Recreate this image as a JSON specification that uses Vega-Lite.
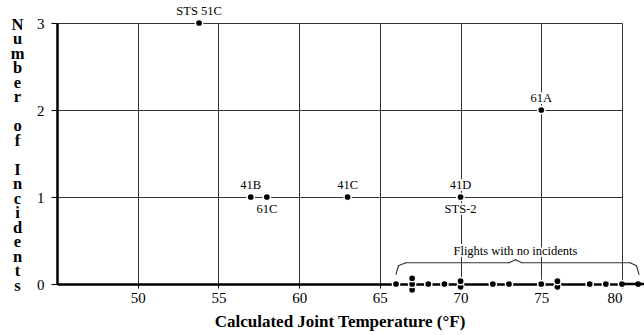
{
  "$schema": "https://vega.github.io/schema/vega-lite/v6.json",
  "width": 565,
  "height": 261,
  "autosize": {"type": "none"},
  "padding": {"left": 57, "top": 23, "right": 22, "bottom": 51},
  "background": "white",
  "config": {
    "view": {"stroke": null},
    "font": "Liberation Serif",
    "axis": {
      "labelFont": "Liberation Serif",
      "titleFont": "Liberation Serif",
      "labelColor": "black",
      "titleColor": "black",
      "labelFontSize": 15,
      "gridColor": "#333",
      "gridWidth": 1,
      "gridOpacity": 1,
      "domainColor": "black",
      "domainWidth": 2.5,
      "tickColor": "black",
      "tickWidth": 1
    }
  },
  "datasets": {
    "flights": [
      {"flight": "STS 51C", "temp": 53.8, "incidents": 3},
      {"flight": "41B", "temp": 57, "incidents": 1},
      {"flight": "61C", "temp": 58, "incidents": 1},
      {"flight": "41C", "temp": 63, "incidents": 1},
      {"flight": "41D", "temp": 70, "incidents": 1},
      {"flight": "STS-2", "temp": 70, "incidents": 1},
      {"flight": "61A", "temp": 75, "incidents": 2},
      {"temp": 66, "incidents": 0},
      {"temp": 67, "incidents": 0},
      {"temp": 67, "incidents": 0},
      {"temp": 67, "incidents": 0},
      {"temp": 68, "incidents": 0},
      {"temp": 69, "incidents": 0},
      {"temp": 70, "incidents": 0},
      {"temp": 70, "incidents": 0},
      {"temp": 72, "incidents": 0},
      {"temp": 73, "incidents": 0},
      {"temp": 75, "incidents": 0},
      {"temp": 76, "incidents": 0},
      {"temp": 76, "incidents": 0},
      {"temp": 78, "incidents": 0},
      {"temp": 79, "incidents": 0},
      {"temp": 80, "incidents": 0},
      {"temp": 81, "incidents": 0}
    ],
    "one": [{}]
  },
  "data": {"name": "flights"},
  "layer": [
    {
      "transform": [
        {"window": [{"op": "row_number", "as": "k"}, {"op": "count", "as": "n"}], "groupby": ["temp", "incidents"], "frame": [null, null]},
        {"calculate": "datum.incidents == 0 ? (datum.k - (datum.n + 1) / 2) * 0.066 : datum.incidents", "as": "yy"}
      ],
      "mark": {"type": "circle", "size": 52, "color": "black", "opacity": 1, "stroke": "white", "strokeWidth": 1.5, "clip": false},
      "encoding": {
        "x": {
          "field": "temp", "type": "quantitative",
          "scale": {"domain": [45, 80], "nice": false, "zero": false},
          "axis": {
            "values": [50, 55, 60, 65, 70, 75, 80],
            "format": "d",
            "grid": true,
            "tickSize": 4,
            "labelPadding": 2,
            "labelFont": "Liberation Serif",
            "labelFontSize": 15,
            "title": "Calculated Joint Temperature (°F)",
            "titleFont": "Liberation Serif",
            "titleFontSize": 17,
            "titleFontWeight": "bold",
            "titleBaseline": "alphabetic",
            "titleY": 42
          }
        },
        "y": {
          "field": "yy", "type": "quantitative",
          "scale": {"domain": [0, 3], "nice": false, "zero": false},
          "axis": {
            "values": [0, 1, 2, 3],
            "format": "d",
            "grid": true,
            "tickSize": 6,
            "labelPadding": 7,
            "labelFont": "Liberation Serif",
            "labelFontSize": 15,
            "title": ["N", "u", "m", "b", "e", "r", "\u200b", "o", "f", "\u200b", "I", "n", "c", "i", "d", "e", "n", "t", "s"],
            "titleFont": "Liberation Serif",
            "titleAngle": 0,
            "titleFontSize": 16.5,
            "titleFontWeight": "bold",
            "titleLineHeight": 14.5,
            "titleAlign": "center",
            "titleBaseline": "top",
            "titleX": -40,
            "titleY": -7
          }
        }
      }
    },
    {
      "data": {"name": "one"},
      "mark": {"type": "rule", "color": "black", "strokeWidth": 2.5, "clip": false},
      "encoding": {
        "x": {"datum": 80, "type": "quantitative"},
        "x2": {"datum": 81.5},
        "y": {"datum": 0, "type": "quantitative"}
      }
    },
    {
      "data": {"name": "one"},
      "mark": {"type": "rule", "color": "#333", "strokeWidth": 1.1, "strokeCap": "round", "clip": false},
      "encoding": {
        "x": {"datum": 66.0, "type": "quantitative"},
        "x2": {"datum": 66.15},
        "y": {"datum": 0.11, "type": "quantitative"},
        "y2": {"datum": 0.21}
      }
    },
    {
      "data": {"name": "one"},
      "mark": {"type": "rule", "color": "#333", "strokeWidth": 1.1, "strokeCap": "round", "clip": false},
      "encoding": {
        "x": {"datum": 66.15, "type": "quantitative"},
        "x2": {"datum": 66.6},
        "y": {"datum": 0.21, "type": "quantitative"},
        "y2": {"datum": 0.245}
      }
    },
    {
      "data": {"name": "one"},
      "mark": {"type": "rule", "color": "#333", "strokeWidth": 1.1, "strokeCap": "round", "clip": false},
      "encoding": {
        "x": {"datum": 66.6, "type": "quantitative"},
        "x2": {"datum": 73.0},
        "y": {"datum": 0.245, "type": "quantitative"}
      }
    },
    {
      "data": {"name": "one"},
      "mark": {"type": "rule", "color": "#333", "strokeWidth": 1.1, "strokeCap": "round", "clip": false},
      "encoding": {
        "x": {"datum": 73.0, "type": "quantitative"},
        "x2": {"datum": 73.4},
        "y": {"datum": 0.245, "type": "quantitative"},
        "y2": {"datum": 0.28}
      }
    },
    {
      "data": {"name": "one"},
      "mark": {"type": "rule", "color": "#333", "strokeWidth": 1.1, "strokeCap": "round", "clip": false},
      "encoding": {
        "x": {"datum": 73.4, "type": "quantitative"},
        "x2": {"datum": 73.8},
        "y": {"datum": 0.28, "type": "quantitative"},
        "y2": {"datum": 0.245}
      }
    },
    {
      "data": {"name": "one"},
      "mark": {"type": "rule", "color": "#333", "strokeWidth": 1.1, "strokeCap": "round", "clip": false},
      "encoding": {
        "x": {"datum": 73.8, "type": "quantitative"},
        "x2": {"datum": 80.5},
        "y": {"datum": 0.245, "type": "quantitative"}
      }
    },
    {
      "data": {"name": "one"},
      "mark": {"type": "rule", "color": "#333", "strokeWidth": 1.1, "strokeCap": "round", "clip": false},
      "encoding": {
        "x": {"datum": 80.5, "type": "quantitative"},
        "x2": {"datum": 80.9},
        "y": {"datum": 0.245, "type": "quantitative"},
        "y2": {"datum": 0.21}
      }
    },
    {
      "data": {"name": "one"},
      "mark": {"type": "rule", "color": "#333", "strokeWidth": 1.1, "strokeCap": "round", "clip": false},
      "encoding": {
        "x": {"datum": 80.9, "type": "quantitative"},
        "x2": {"datum": 81.05},
        "y": {"datum": 0.21, "type": "quantitative"},
        "y2": {"datum": 0.11}
      }
    },
    {
      "data": {"name": "one"},
      "mark": {"type": "text", "fontSize": 12.5, "font": "Liberation Serif", "baseline": "bottom", "align": "center", "stroke": "white", "strokeWidth": 4, "strokeJoin": "round", "fill": "white"},
      "encoding": {
        "x": {"datum": 73.4, "type": "quantitative"},
        "y": {"datum": 0.3, "type": "quantitative"},
        "text": {"value": "Flights with no incidents"}
      }
    },
    {
      "data": {"name": "one"},
      "mark": {"type": "text", "fontSize": 12.5, "font": "Liberation Serif", "baseline": "bottom", "align": "center", "color": "black"},
      "encoding": {
        "x": {"datum": 73.4, "type": "quantitative"},
        "y": {"datum": 0.3, "type": "quantitative"},
        "text": {"value": "Flights with no incidents"}
      }
    },
    {
      "transform": [{"filter": "isValid(datum.flight) && datum.flight != '61C' && datum.flight != 'STS-2'"}],
      "mark": {"type": "text", "fontSize": 12.5, "font": "Liberation Serif", "baseline": "bottom", "align": "center", "dy": -5, "stroke": "white", "strokeWidth": 4, "strokeJoin": "round", "fill": "white"},
      "encoding": {
        "x": {"field": "temp", "type": "quantitative"},
        "y": {"field": "incidents", "type": "quantitative"},
        "text": {"field": "flight"}
      }
    },
    {
      "transform": [{"filter": "isValid(datum.flight) && datum.flight != '61C' && datum.flight != 'STS-2'"}],
      "mark": {"type": "text", "fontSize": 12.5, "font": "Liberation Serif", "baseline": "bottom", "align": "center", "dy": -5, "color": "black"},
      "encoding": {
        "x": {"field": "temp", "type": "quantitative"},
        "y": {"field": "incidents", "type": "quantitative"},
        "text": {"field": "flight"}
      }
    },
    {
      "transform": [{"filter": "datum.flight == '61C' || datum.flight == 'STS-2'"}],
      "mark": {"type": "text", "fontSize": 12.5, "font": "Liberation Serif", "baseline": "top", "align": "center", "dy": 6, "stroke": "white", "strokeWidth": 4, "strokeJoin": "round", "fill": "white"},
      "encoding": {
        "x": {"field": "temp", "type": "quantitative"},
        "y": {"field": "incidents", "type": "quantitative"},
        "text": {"field": "flight"}
      }
    },
    {
      "transform": [{"filter": "datum.flight == '61C' || datum.flight == 'STS-2'"}],
      "mark": {"type": "text", "fontSize": 12.5, "font": "Liberation Serif", "baseline": "top", "align": "center", "dy": 6, "color": "black"},
      "encoding": {
        "x": {"field": "temp", "type": "quantitative"},
        "y": {"field": "incidents", "type": "quantitative"},
        "text": {"field": "flight"}
      }
    }
  ]
}
